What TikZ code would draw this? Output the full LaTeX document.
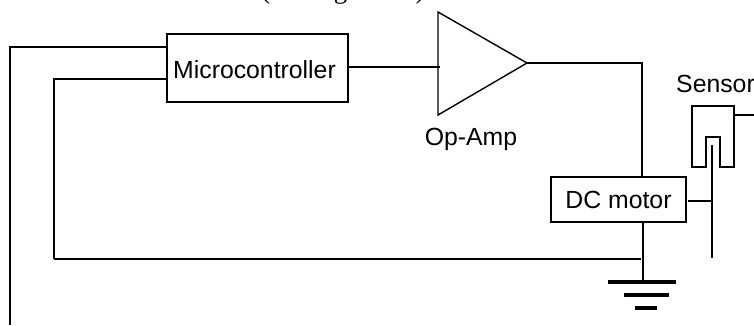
\documentclass[tikz,border=0pt]{standalone}
\usepackage{fontspec}
\setmainfont{Liberation Sans}
\newfontfamily\serifcut{Liberation Serif}
\usetikzlibrary{calc, positioning}
\tikzset{
  wire/.style={black, line width=1.2pt},
  blockbox/.style={draw=black, line width=1.3pt, inner sep=0pt, font=\fontsize{24.8}{28}\selectfont},
  plainlabel/.style={inner sep=0pt, font=\fontsize{24.8}{28}\selectfont},
  groundbar/.style={black, line width=3.3pt}
}
\begin{document}
\begin{tikzpicture}[x=1pt, y=-1pt]
  \useasboundingbox (0,0) rectangle (754,325);
  \clip (0,0) rectangle (754,325);
  % text cut off by the top edge
  \node[inner sep=0pt, anchor=base west, font=\serifcut\fontsize{27}{30}\selectfont] (caption) at (261,-2) {(see Figure 10)};
  % blocks
  \node[blockbox, minimum width=181pt, minimum height=68pt, text height=21pt, text depth=0pt] (mcu) at (257.5,68) {\hspace*{-6pt}Microcontroller};
  \node[blockbox, minimum width=135pt, minimum height=45pt] (motor) at (618.5,199.5) {DC motor};
  \draw[wire, line width=1.4pt] (438,12) coordinate (ampa) -- (527,63) coordinate (ampout) -- (438,115) coordinate (ampb) -- cycle;
  \node[plainlabel, anchor=base] (amplabel) at (471,145) {Op-Amp};
  \node[plainlabel, anchor=base west] (sensorlabel) at (676,92) {Sensor};
  % sensor
  \draw[wire] (692,167) -- (692,106) -- (734,106) -- (734,167) -- (720,167) -- (720,137) -- (706,137) -- (706,167) -- cycle;
  % wires
  \coordinate (topleft) at (10,47);
  \coordinate (topend) at (10,325);
  \coordinate (midleft) at (54,79);
  \coordinate (midlow) at (54,259);
  \coordinate (jn) at (641,259);
  \coordinate (ampin) at (440,67);
  \coordinate (motorin) at (642,63);
  \coordinate (senout) at (754,115);
  \coordinate (rod) at (712,145);
  \coordinate (rodend) at (712,258);
  \coordinate (rodmid) at (712,201);
  \coordinate (gtop) at (643,222);
  \coordinate (gbot) at (643,282);
  \draw[wire] (topend) -- (topleft) -- (topleft -| mcu.west);
  \draw[wire] (midlow) -- (midleft) -- (midleft -| mcu.west);
  \draw[wire] (midlow) -- (jn);
  \draw[wire] (ampin -| mcu.east) -- (ampin);
  \draw[wire] (ampout) -- (motorin) -- (motorin |- motor.north);
  \draw[wire] (gtop) -- (gbot);
  \draw[wire] (734,115) -- (senout);
  \draw[wire] (rod) -- (rodend);
  \draw[wire] (688,201) -- (rodmid);
  % ground
  \draw[groundbar] (608,282) -- (676,282);
  \draw[groundbar] (624,295) -- (669,295);
  \draw[groundbar] (635,308) -- (657,308);
\end{tikzpicture}
\end{document}
